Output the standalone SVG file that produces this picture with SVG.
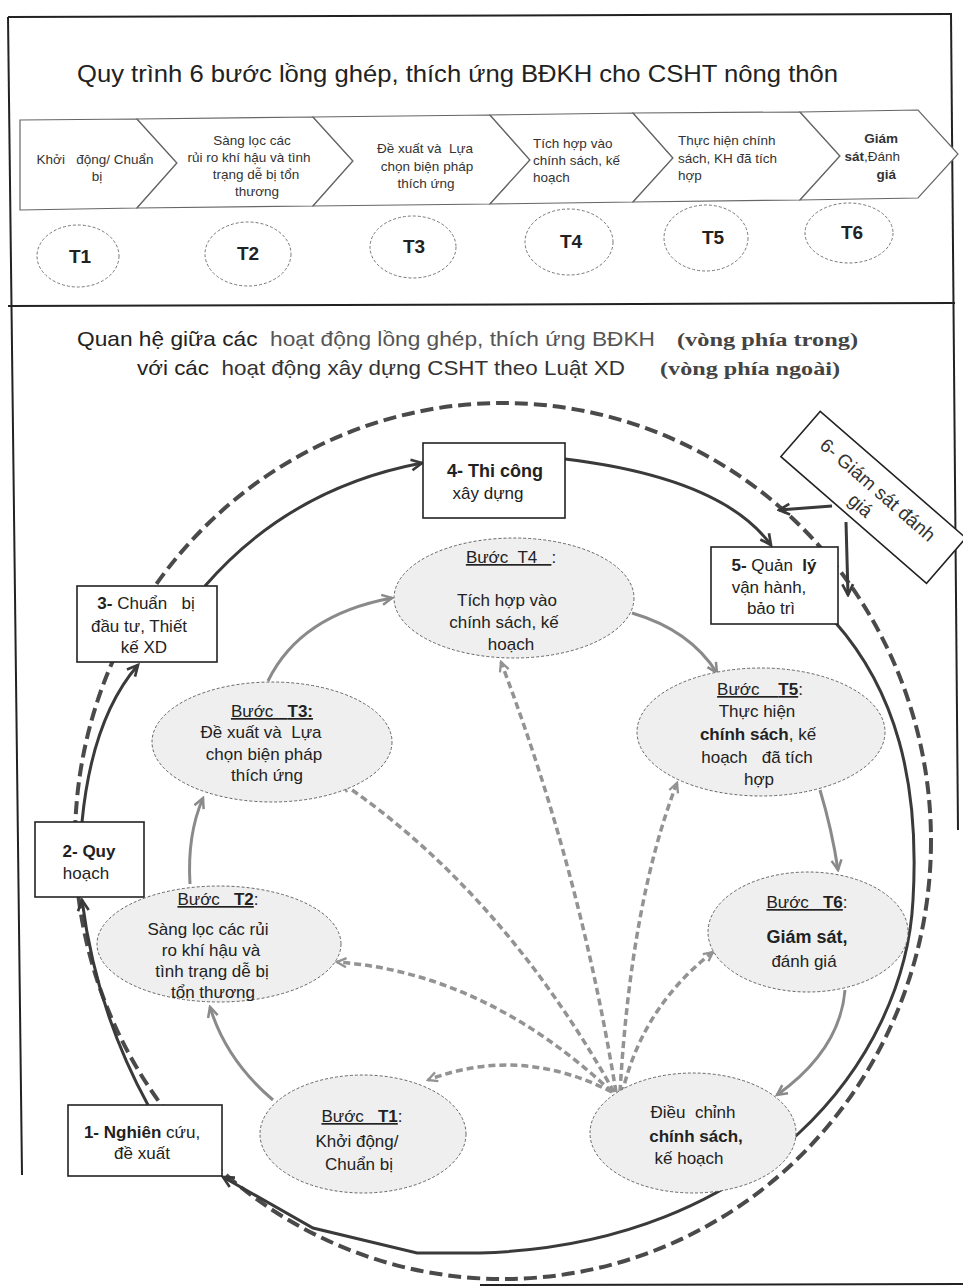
<svg xmlns="http://www.w3.org/2000/svg" width="963" height="1287" viewBox="0 0 963 1287">
<style>
text{font-family:"Liberation Sans",Arial,sans-serif;fill:#222}
.frame{fill:none;stroke:#222;stroke-width:2}
.chev{fill:#fff;stroke:#666;stroke-width:1.2}
.ct{font-size:13.5px;fill:#333}
.tov{fill:#fff;stroke:#777;stroke-width:1;stroke-dasharray:3 2}
.tl{font-size:19px;font-weight:bold;text-anchor:middle;fill:#222}
.box{fill:#fff;stroke:#222;stroke-width:1.6}
.bt{font-size:17px;text-anchor:middle;fill:#222}
.ov{fill:#efefef;stroke:#666;stroke-width:1;stroke-dasharray:3 2}
.ot{font-size:17px;text-anchor:middle;fill:#222}
.b{font-weight:bold}
.u{text-decoration:underline}
.ring{fill:none;stroke:#4a4a4a;stroke-width:4;stroke-dasharray:13 6}
.solid{fill:none;stroke:#3a3a3a;stroke-width:3}
.inner{fill:none;stroke:#8a8a8a;stroke-width:3}
.fan{fill:none;stroke:#939393;stroke-width:3.5;stroke-dasharray:7 4}
</style>
<defs>
<marker id="aD" viewBox="0 0 14 14" refX="12" refY="7" markerWidth="15" markerHeight="15" markerUnits="userSpaceOnUse" orient="auto"><path d="M2,2 L12,7 L2,12" fill="none" stroke="#3a3a3a" stroke-width="2.5"/></marker>
<marker id="aG" viewBox="0 0 14 14" refX="12" refY="7" markerWidth="14" markerHeight="14" markerUnits="userSpaceOnUse" orient="auto"><path d="M2,2 L12,7 L2,12" fill="none" stroke="#8a8a8a" stroke-width="2.5"/></marker>
<marker id="aF" viewBox="0 0 14 14" refX="12" refY="7" markerWidth="13" markerHeight="13" markerUnits="userSpaceOnUse" orient="auto"><path d="M2,2 L12,7 L2,12" fill="none" stroke="#939393" stroke-width="2.5"/></marker>
</defs>

<g id="frame">
<path class="frame" d="M8,17 L952,14"/>
<path class="frame" d="M8,17 L22,1175"/>
<path class="frame" d="M951,14 L958,830"/>
<path class="frame" d="M8,306 L955,303"/>
<path class="frame" d="M480,1285 L963,1284"/>
</g>

<g id="title1">
<text x="77" y="82" font-size="24" textLength="761" lengthAdjust="spacingAndGlyphs" fill="#222">Quy trình 6 bước lồng ghép, thích ứng BĐKH cho CSHT nông thôn</text>
</g>

<g id="chevrons">
<g id="c1"><polygon class="chev" points="20,120 137,119 177,163 137,208 20,210"/>
<text class="ct" xml:space="preserve" text-anchor="middle"><tspan x="95" y="164">Khởi   động/ Chuẩn</tspan><tspan x="97" y="181">bị</tspan></text></g>
<g id="c2"><polygon class="chev" points="137,119 313,117 353,161 313,206 137,208 177,163"/>
<text class="ct" text-anchor="middle"><tspan x="252" y="145">Sàng lọc các</tspan><tspan x="249" y="162">rủi ro khí hậu và tình</tspan><tspan x="256" y="179">trạng dễ bị tổn</tspan><tspan x="257" y="196">thương</tspan></text></g>
<g id="c3"><polygon class="chev" points="313,117 490,115 530,160 490,204 313,206 353,161"/>
<text class="ct" xml:space="preserve" text-anchor="middle"><tspan x="425" y="153">Đề xuất và  Lựa</tspan><tspan x="427" y="171">chọn biện pháp</tspan><tspan x="426" y="188">thích ứng</tspan></text></g>
<g id="c4"><polygon class="chev" points="490,115 633,113 673,158 633,202 490,204 530,160"/>
<text class="ct"><tspan x="533" y="148">Tích hợp vào</tspan><tspan x="533" y="165">chính sách, kế</tspan><tspan x="533" y="182">hoạch</tspan></text></g>
<g id="c5"><polygon class="chev" points="633,113 800,112 840,156 800,200 633,202 673,158"/>
<text class="ct"><tspan x="678" y="145">Thực hiện chính</tspan><tspan x="678" y="163">sách, KH đã tích</tspan><tspan x="678" y="180">hợp</tspan></text></g>
<g id="c6"><polygon class="chev" points="800,112 918,110 958,154 918,198 800,200 840,156"/>
<text class="ct" text-anchor="end"><tspan x="898" y="143" class="b">Giám</tspan><tspan x="900" y="161"><tspan class="b">sát</tspan>,Đánh</tspan><tspan x="896" y="179" class="b">giá</tspan></text></g>
</g>

<g id="tsteps">
<g id="t1"><ellipse class="tov" cx="78" cy="256" rx="41" ry="31"/><text class="tl" x="80" y="263">T1</text></g>
<g id="t2"><ellipse class="tov" cx="248" cy="254" rx="43" ry="32"/><text class="tl" x="248" y="260">T2</text></g>
<g id="t3"><ellipse class="tov" cx="413" cy="247" rx="43" ry="31"/><text class="tl" x="414" y="253">T3</text></g>
<g id="t4"><ellipse class="tov" cx="569" cy="242" rx="44" ry="33"/><text class="tl" x="571" y="248">T4</text></g>
<g id="t5"><ellipse class="tov" cx="706" cy="238" rx="42" ry="33"/><text class="tl" x="713" y="244">T5</text></g>
<g id="t6"><ellipse class="tov" cx="849" cy="233" rx="44" ry="30"/><text class="tl" x="852" y="239">T6</text></g>
</g>

<g id="title2">
<text x="77" y="346" font-size="21" textLength="578" lengthAdjust="spacingAndGlyphs" xml:space="preserve"><tspan fill="#222">Quan hệ giữa các  </tspan><tspan fill="#555">hoạt động lồng ghép, thích ứng BĐKH</tspan></text>
<text x="677" y="346" font-size="19" font-weight="bold" textLength="181" lengthAdjust="spacingAndGlyphs" style="font-family:'Liberation Serif','Times New Roman',serif;fill:#444">(vòng phía trong)</text>
<text x="137" y="375" font-size="21" textLength="488" lengthAdjust="spacingAndGlyphs" xml:space="preserve"><tspan fill="#222">với các  </tspan><tspan fill="#333">hoạt động xây dựng CSHT theo Luật XD</tspan></text>
<text x="660" y="375" font-size="19" font-weight="bold" textLength="180" lengthAdjust="spacingAndGlyphs" style="font-family:'Liberation Serif','Times New Roman',serif;fill:#444">(vòng phía ngoài)</text>
</g>

<g id="connectors">
<ellipse class="ring" cx="503" cy="841" rx="428" ry="438"/>
<path class="solid" marker-end="url(#aD)" d="M148,1105 Q96,1010 82,900"/>
<path class="solid" marker-end="url(#aD)" d="M82,822 Q92,718 138,665"/>
<path class="solid" marker-end="url(#aD)" d="M205,586 Q290,488 422,463"/>
<path class="solid" marker-end="url(#aD)" d="M565,459 Q722,478 771,545"/>
<path class="solid" marker-end="url(#aD)" d="M835,622 C895,690 920,780 913,900 C905,1060 760,1245 480,1253 L417,1253 L313,1228 L223,1177"/>
<path class="solid" marker-end="url(#aD)" d="M832,506 L779,510"/>
<path class="solid" marker-end="url(#aD)" d="M846,522 L848,595"/>
<path class="inner" marker-end="url(#aG)" d="M273,1100 Q226,1060 210,1007"/>
<path class="inner" marker-end="url(#aG)" d="M190,884 Q187,835 203,798"/>
<path class="inner" marker-end="url(#aG)" d="M268,681 Q300,615 392,598"/>
<path class="inner" marker-end="url(#aG)" d="M632,613 Q690,630 717,673"/>
<path class="inner" marker-end="url(#aG)" d="M820,790 Q832,830 838,870"/>
<path class="inner" marker-end="url(#aG)" d="M845,990 Q840,1050 777,1095"/>
<path class="fan" marker-end="url(#aF)" d="M612,1092 Q520,1045 428,1080"/>
<path class="fan" marker-end="url(#aF)" d="M612,1092 Q485,973 337,962"/>
<path class="fan" marker-end="url(#aF)" d="M614,1092 Q502,892 342,783"/>
<path class="fan" marker-end="url(#aF)" d="M616,1092 Q580,870 501,662"/>
<path class="fan" marker-end="url(#aF)" d="M620,1092 Q631,902 677,783"/>
<path class="fan" marker-end="url(#aF)" d="M622,1094 Q642,1007 713,952"/>
</g>

<g id="box1"><rect class="box" x="68" y="1105" width="154" height="71"/>
<text class="bt"><tspan x="142" y="1138"><tspan class="b">1- Nghiên</tspan> cứu,</tspan><tspan x="142" y="1159">đề xuất</tspan></text></g>
<g id="box2"><rect class="box" x="35" y="822" width="109" height="75"/>
<text class="bt"><tspan x="89" y="857" class="b">2- Quy</tspan><tspan x="86" y="879">hoạch</tspan></text></g>
<g id="box3"><rect class="box" x="77" y="586" width="140" height="76"/>
<text class="bt" xml:space="preserve"><tspan x="146" y="609"><tspan class="b">3-</tspan> Chuẩn   bị</tspan><tspan x="139" y="632">đầu tư, Thiết</tspan><tspan x="144" y="653">kế XD</tspan></text></g>
<g id="box4"><rect class="box" x="423" y="443" width="142" height="75"/>
<text class="bt"><tspan x="495" y="477" class="b" font-size="18">4- Thi công</tspan><tspan x="488" y="499">xây dựng</tspan></text></g>
<g id="box5"><rect class="box" x="711" y="547" width="127" height="77"/>
<text class="bt" xml:space="preserve"><tspan x="774" y="571"><tspan class="b">5-</tspan> Quản  <tspan class="b">lý</tspan></tspan><tspan x="769" y="593">vận hành,</tspan><tspan x="771" y="614">bảo trì</tspan></text></g>
<g id="box6" transform="translate(873,497) rotate(41)"><rect class="box" x="-96" y="-30" width="193" height="60"/>
<text class="bt" style="fill:#333;font-size:19px"><tspan x="-1" y="-2">6- Giám sát đánh</tspan><tspan x="-4" y="21">giá</tspan></text></g>

<g id="stepT4"><ellipse class="ov" cx="514" cy="598" rx="120" ry="60"/>
<text class="ot" xml:space="preserve"><tspan x="511" y="563"><tspan class="u">Bước  T4   </tspan>:</tspan><tspan x="507" y="606">Tích hợp vào</tspan><tspan x="504" y="628">chính sách, kế</tspan><tspan x="511" y="650">hoạch</tspan></text></g>
<g id="stepT3"><ellipse class="ov" cx="272" cy="742" rx="120" ry="60"/>
<text class="ot" xml:space="preserve"><tspan x="272" y="717" class="u">Bước   <tspan class="b">T3:</tspan></tspan><tspan x="261" y="738">Đề xuất và  Lựa</tspan><tspan x="264" y="760">chọn biện pháp</tspan><tspan x="267" y="781">thích ứng</tspan></text></g>
<g id="stepT5"><ellipse class="ov" cx="761" cy="732" rx="124" ry="64"/>
<text class="ot" xml:space="preserve"><tspan x="760" y="695"><tspan class="u">Bước    <tspan class="b">T5</tspan></tspan>:</tspan><tspan x="757" y="717">Thực hiện</tspan><tspan x="758" y="740"><tspan class="b">chính sách</tspan>, kế</tspan><tspan x="757" y="763">hoạch   đã tích</tspan><tspan x="759" y="785">hợp</tspan></text></g>
<g id="stepT2"><ellipse class="ov" cx="219" cy="944" rx="122" ry="58"/>
<text class="ot" xml:space="preserve"><tspan x="218" y="905"><tspan class="u">Bước   <tspan class="b">T2</tspan></tspan>:</tspan><tspan x="208" y="935">Sàng lọc các rủi</tspan><tspan x="211" y="956">ro khí hậu và</tspan><tspan x="212" y="977">tình trạng dễ bị</tspan><tspan x="213" y="998">tổn thương</tspan></text></g>
<g id="stepT1"><ellipse class="ov" cx="363" cy="1134" rx="103" ry="59"/>
<text class="ot" xml:space="preserve"><tspan x="362" y="1122"><tspan class="u">Bước   <tspan class="b">T1</tspan></tspan>:</tspan><tspan x="357" y="1147">Khởi động/</tspan><tspan x="359" y="1170">Chuẩn bị</tspan></text></g>
<g id="stepT6"><ellipse class="ov" cx="808" cy="932" rx="100" ry="60"/>
<text class="ot" xml:space="preserve"><tspan x="807" y="908"><tspan class="u">Bước   <tspan class="b">T6</tspan></tspan>:</tspan><tspan x="807" y="943" class="b" font-size="18">Giám sát,</tspan><tspan x="804" y="967">đánh giá</tspan></text></g>
<g id="stepAdjust"><ellipse class="ov" cx="693" cy="1133" rx="103" ry="60"/>
<text class="ot" xml:space="preserve"><tspan x="693" y="1118">Điều  chỉnh</tspan><tspan x="696" y="1142" class="b">chính sách,</tspan><tspan x="689" y="1164">kế hoạch</tspan></text></g>
</svg>
